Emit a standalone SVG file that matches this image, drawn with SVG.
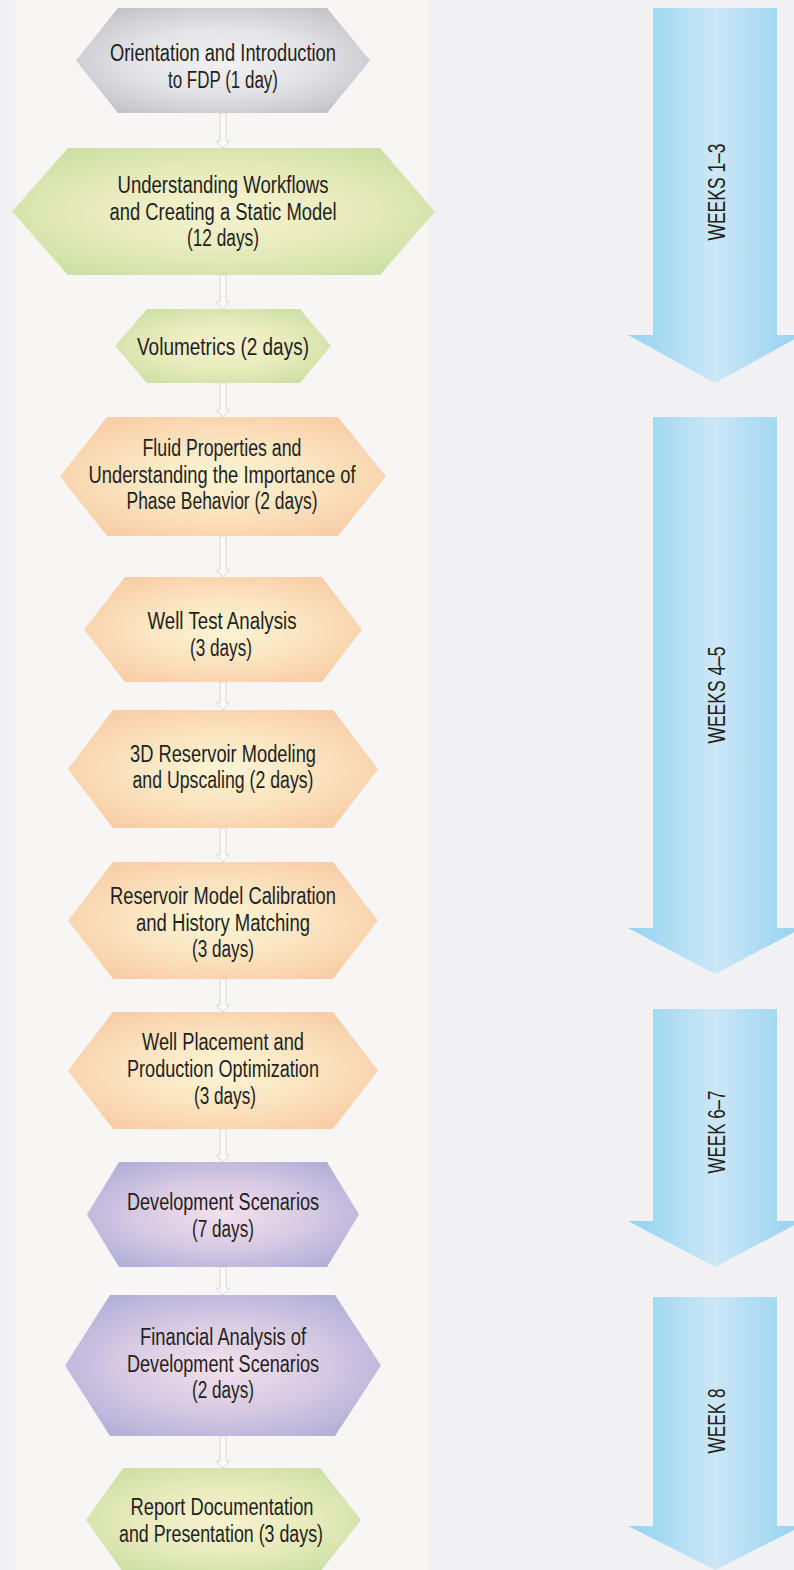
<svg xmlns="http://www.w3.org/2000/svg" width="794" height="1570" viewBox="0 0 794 1570">
<defs>
<radialGradient id="gGrey" cx="0.5" cy="0.5" r="0.6">
<stop offset="0" stop-color="#f2f2f4"/><stop offset="0.5" stop-color="#e4e4e8"/><stop offset="1" stop-color="#c3c3c9"/>
</radialGradient>
<radialGradient id="gGreen" cx="0.5" cy="0.5" r="0.6">
<stop offset="0" stop-color="#f6f2cf"/><stop offset="0.5" stop-color="#e9ebbd"/><stop offset="1" stop-color="#cde0a5"/>
</radialGradient>
<radialGradient id="gOrange" cx="0.5" cy="0.5" r="0.6">
<stop offset="0" stop-color="#fdf5d4"/><stop offset="0.5" stop-color="#fbe4c0"/><stop offset="1" stop-color="#f8cca6"/>
</radialGradient>
<radialGradient id="gPurple" cx="0.5" cy="0.5" r="0.6">
<stop offset="0" stop-color="#f3e0ec"/><stop offset="0.5" stop-color="#d9cbe4"/><stop offset="1" stop-color="#b2b0d8"/>
</radialGradient>
<linearGradient id="gBlue" x1="0" y1="0" x2="1" y2="0">
<stop offset="0" stop-color="#98d3ef"/><stop offset="0.15" stop-color="#a2d8f2"/><stop offset="0.5" stop-color="#cde7f6"/><stop offset="0.85" stop-color="#a2d8f2"/><stop offset="1" stop-color="#98d3ef"/>
</linearGradient>
<style>
.hx{stroke:none}
.lbl{font-family:"Liberation Sans Narrow","Liberation Sans",Arial,sans-serif;font-size:23px;fill:#231f20;text-anchor:middle}
.wk{font-family:"Liberation Sans Narrow","Liberation Sans",Arial,sans-serif;font-size:24px;fill:#231f20;text-anchor:middle}
.con{fill:#fbfbfb;stroke:#d6d6d8;stroke-width:1}
.wa{fill:url(#gBlue)}
</style>
</defs>
<rect x="0" y="0" width="794" height="1570" fill="#f1f0f2"/>
<rect x="15" y="0" width="413" height="1570" fill="#f7f6f5"/>

<g id="connectors">
<path class="con" d="M220,113 L226,113 L226,141 L229.5,141 L223,148 L216.5,141 L220,141 Z"/>
<path class="con" d="M220,275 L226,275 L226,302 L229.5,302 L223,309 L216.5,302 L220,302 Z"/>
<path class="con" d="M220,383 L226,383 L226,410 L229.5,410 L223,417 L216.5,410 L220,410 Z"/>
<path class="con" d="M220,536 L226,536 L226,570 L229.5,570 L223,577 L216.5,570 L220,570 Z"/>
<path class="con" d="M220,682 L226,682 L226,703 L229.5,703 L223,710 L216.5,703 L220,703 Z"/>
<path class="con" d="M220,828 L226,828 L226,855 L229.5,855 L223,862 L216.5,855 L220,855 Z"/>
<path class="con" d="M220,979 L226,979 L226,1005 L229.5,1005 L223,1012 L216.5,1005 L220,1005 Z"/>
<path class="con" d="M220,1129 L226,1129 L226,1155 L229.5,1155 L223,1162 L216.5,1155 L220,1155 Z"/>
<path class="con" d="M220,1267 L226,1267 L226,1288 L229.5,1288 L223,1295 L216.5,1288 L220,1288 Z"/>
<path class="con" d="M220,1436 L226,1436 L226,1461 L229.5,1461 L223,1468 L216.5,1461 L220,1461 Z"/>
</g>

<g id="n1">
<polygon class="hx" fill="url(#gGrey)" points="76,60.5 118,8 327,8 370,60.5 327,113 118,113"/>
<text class="lbl" x="223" y="61" textLength="226" lengthAdjust="spacingAndGlyphs">Orientation and Introduction</text>
<text class="lbl" x="223" y="87.5" textLength="110" lengthAdjust="spacingAndGlyphs">to FDP (1 day)</text>
</g>
<g id="n2">
<polygon class="hx" fill="url(#gGreen)" points="12,211.5 68,148 380,148 435,211.5 380,275 68,275"/>
<text class="lbl" x="223" y="193" textLength="211" lengthAdjust="spacingAndGlyphs">Understanding Workflows</text>
<text class="lbl" x="223" y="219.5" textLength="227" lengthAdjust="spacingAndGlyphs">and Creating a Static Model</text>
<text class="lbl" x="223" y="246" textLength="72" lengthAdjust="spacingAndGlyphs">(12 days)</text>
</g>
<g id="n3">
<polygon class="hx" fill="url(#gGreen)" points="115,346 147,309 300,309 331,346 300,383 147,383"/>
<text class="lbl" x="223" y="355" textLength="172" lengthAdjust="spacingAndGlyphs">Volumetrics (2 days)</text>
</g>
<g id="n4">
<polygon class="hx" fill="url(#gOrange)" points="60,476.5 107,417 338,417 386,476.5 338,536 107,536"/>
<text class="lbl" x="222" y="456" textLength="159" lengthAdjust="spacingAndGlyphs">Fluid Properties and</text>
<text class="lbl" x="222" y="482.5" textLength="267" lengthAdjust="spacingAndGlyphs">Understanding the Importance of</text>
<text class="lbl" x="222" y="509" textLength="191" lengthAdjust="spacingAndGlyphs">Phase Behavior (2 days)</text>
</g>
<g id="n5">
<polygon class="hx" fill="url(#gOrange)" points="84,629.5 125,577 322,577 362,629.5 322,682 125,682"/>
<text class="lbl" x="222" y="629" textLength="149" lengthAdjust="spacingAndGlyphs">Well Test Analysis</text>
<text class="lbl" x="221" y="656" textLength="62" lengthAdjust="spacingAndGlyphs">(3 days)</text>
</g>
<g id="n6">
<polygon class="hx" fill="url(#gOrange)" points="68,769 113,710 333,710 378,769 333,828 113,828"/>
<text class="lbl" x="223" y="762" textLength="186" lengthAdjust="spacingAndGlyphs">3D Reservoir Modeling</text>
<text class="lbl" x="223" y="788" textLength="181" lengthAdjust="spacingAndGlyphs">and Upscaling (2 days)</text>
</g>
<g id="n7">
<polygon class="hx" fill="url(#gOrange)" points="68,920.5 113,862 333,862 378,920.5 333,979 113,979"/>
<text class="lbl" x="223" y="904" textLength="226" lengthAdjust="spacingAndGlyphs">Reservoir Model Calibration</text>
<text class="lbl" x="223" y="930.5" textLength="174" lengthAdjust="spacingAndGlyphs">and History Matching</text>
<text class="lbl" x="223" y="957" textLength="62" lengthAdjust="spacingAndGlyphs">(3 days)</text>
</g>
<g id="n8">
<polygon class="hx" fill="url(#gOrange)" points="68,1070.5 113,1012 333,1012 378,1070.5 333,1129 113,1129"/>
<text class="lbl" x="223" y="1050" textLength="162" lengthAdjust="spacingAndGlyphs">Well Placement and</text>
<text class="lbl" x="223" y="1077" textLength="192" lengthAdjust="spacingAndGlyphs">Production Optimization</text>
<text class="lbl" x="225" y="1104" textLength="62" lengthAdjust="spacingAndGlyphs">(3 days)</text>
</g>
<g id="n9">
<polygon class="hx" fill="url(#gPurple)" points="87,1214.5 119,1162 327,1162 359,1214.5 327,1267 119,1267"/>
<text class="lbl" x="223" y="1210" textLength="192" lengthAdjust="spacingAndGlyphs">Development Scenarios</text>
<text class="lbl" x="223" y="1237" textLength="62" lengthAdjust="spacingAndGlyphs">(7 days)</text>
</g>
<g id="n10">
<polygon class="hx" fill="url(#gPurple)" points="65,1365.5 110,1295 335,1295 381,1365.5 335,1436 110,1436"/>
<text class="lbl" x="223" y="1345" textLength="166" lengthAdjust="spacingAndGlyphs">Financial Analysis of</text>
<text class="lbl" x="223" y="1371.5" textLength="192" lengthAdjust="spacingAndGlyphs">Development Scenarios</text>
<text class="lbl" x="223" y="1398" textLength="62" lengthAdjust="spacingAndGlyphs">(2 days)</text>
</g>
<g id="n11">
<polygon class="hx" fill="url(#gGreen)" points="86,1520 123,1468 320,1468 361,1520 320,1572 123,1572"/>
<text class="lbl" x="222" y="1515" textLength="183" lengthAdjust="spacingAndGlyphs">Report Documentation</text>
<text class="lbl" x="221" y="1542" textLength="204" lengthAdjust="spacingAndGlyphs">and Presentation (3 days)</text>
</g>

<g id="w1">
<path class="wa" d="M653,8 L777,8 L777,335 L802,335 L715,383 L628,335 L653,335 Z"/>
<text class="wk" transform="translate(725,192) rotate(-90)" textLength="97" lengthAdjust="spacingAndGlyphs">WEEKS 1–3</text>
</g>
<g id="w2">
<path class="wa" d="M653,417 L777,417 L777,928 L802,928 L715,974 L628,928 L653,928 Z"/>
<text class="wk" transform="translate(725,695) rotate(-90)" textLength="97" lengthAdjust="spacingAndGlyphs">WEEKS 4–5</text>
</g>
<g id="w3">
<path class="wa" d="M653,1009 L777,1009 L777,1221 L802,1221 L715,1267 L628,1221 L653,1221 Z"/>
<text class="wk" transform="translate(725,1132) rotate(-90)" textLength="83" lengthAdjust="spacingAndGlyphs">WEEK 6–7</text>
</g>
<g id="w4">
<path class="wa" d="M653,1297 L777,1297 L777,1526 L802,1526 L715,1570 L628,1526 L653,1526 Z"/>
<text class="wk" transform="translate(725,1421) rotate(-90)" textLength="65" lengthAdjust="spacingAndGlyphs">WEEK 8</text>
</g>
</svg>
